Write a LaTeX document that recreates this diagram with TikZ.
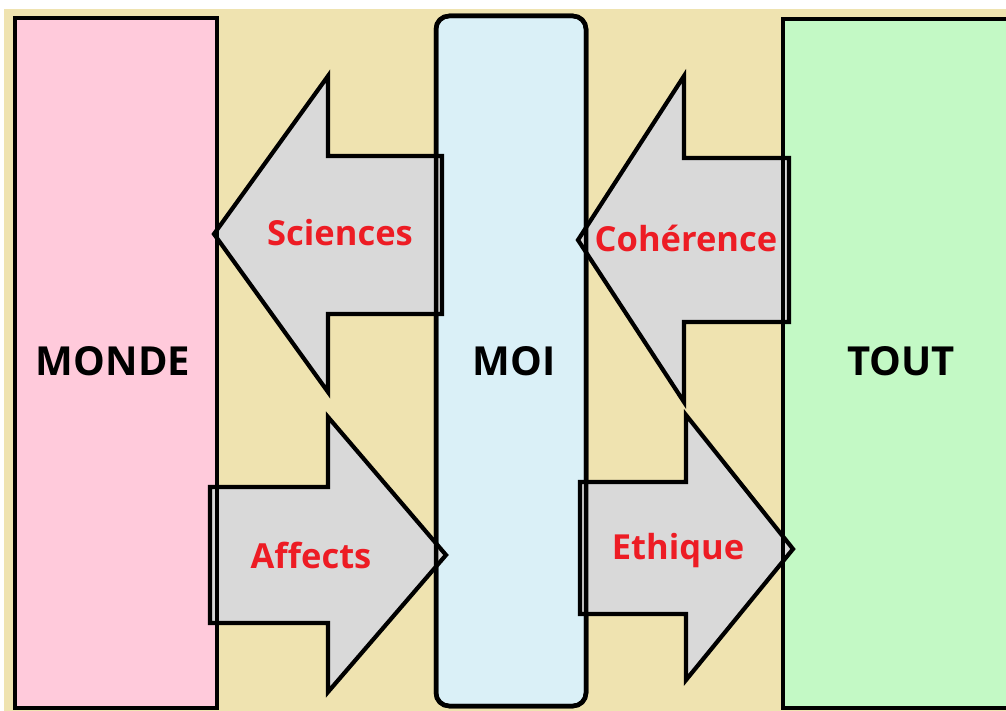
\documentclass[tikz,border=0pt]{standalone}
\usepackage{fontspec}
\newfontfamily\lblfont{Open Sans}
\definecolor{bgbeige}{RGB}{239,227,176}
\definecolor{mondepink}{RGB}{255,202,219}
\definecolor{moiblue}{RGB}{218,240,247}
\definecolor{toutgreen}{RGB}{195,249,197}
\definecolor{arrowgrey}{RGB}{217,217,217}
\definecolor{lblred}{RGB}{237,28,36}
\tikzset{
  boxline/.style={draw=black,line width=4.5pt},
  blockarrow/.style={draw=black,line width=4.2pt,fill=arrowgrey,line join=miter},
  bigtext/.style={font=\lblfont\bfseries\fontsize{40}{44}\selectfont,text=black,inner sep=0pt},
  redtext/.style={font=\lblfont\bfseries\fontsize{34.5}{38}\selectfont,text=lblred,inner sep=0pt},
}
\begin{document}
\begin{tikzpicture}[x=1pt,y=-1pt]
\useasboundingbox (0,0) rectangle (1006,711);
\clip (0,0) rectangle (1006,711);
\fill[white] (0,0) rectangle (1006,711);
\fill[bgbeige] (4,9) rectangle (1010,715);
% boxes
\path[fill=mondepink,boxline] (15,18) rectangle (217,708);
\path[fill=moiblue,boxline,rounded corners=13pt] (436,16) rectangle (586,706);
\path[fill=toutgreen,boxline] (783,19) rectangle (1030,708);
% arrows
\path[blockarrow] (442,156) -- (328,156) -- (328,76) -- (214,234) -- (328,392) -- (328,314) -- (442,314) -- cycle;
\path[blockarrow] (789,158) -- (684,158) -- (684,76) -- (578,240) -- (684,402) -- (684,322) -- (789,322) -- cycle;
\path[blockarrow] (210,487) -- (328,487) -- (328,417) -- (446,555) -- (328,692) -- (328,623) -- (210,623) -- cycle;
\path[blockarrow] (580,482) -- (686,482) -- (686,415) -- (793,549) -- (686,680) -- (686,614) -- (580,614) -- cycle;
% box borders over arrows
\draw[boxline] (15,18) rectangle (217,708);
\draw[boxline,rounded corners=13pt] (436,16) rectangle (586,706);
\draw[boxline] (783,19) rectangle (1030,708);
% labels
\node[bigtext] (monde) at (113,361) {MONDE};
\node[bigtext] (moi) at (514,361) {MOI};
\node[bigtext] (tout) at (901,361) {TOUT};
\node[redtext] (sciences) at (340,233) {Sciences};
\node[redtext] (coherence) at (686,238) {Cohérence};
\node[redtext] (affects) at (311,555) {Affects};
\node[redtext] (ethique) at (678,551) {Ethique};
\end{tikzpicture}
\end{document}
